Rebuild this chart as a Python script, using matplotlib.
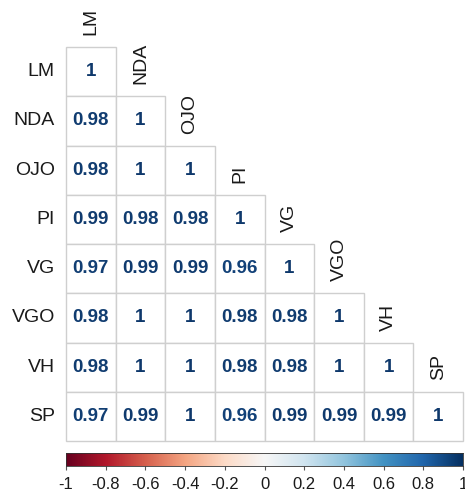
import matplotlib
matplotlib.use("Agg")
import matplotlib.pyplot as plt
import numpy as np
from matplotlib.patches import Rectangle
from matplotlib.colors import to_rgb

plt.rcParams['font.family'] = ['Liberation Sans', 'DejaVu Sans']

labels = ["LM", "NDA", "OJO", "PI", "VG", "VGO", "VH", "SP"]
rows = [
    [1],
    [0.98, 1],
    [0.98, 1, 1],
    [0.99, 0.98, 0.98, 1],
    [0.97, 0.99, 0.99, 0.96, 1],
    [0.98, 1, 1, 0.98, 0.98, 1],
    [0.98, 1, 1, 0.98, 0.98, 1, 1],
    [0.97, 0.99, 1, 0.96, 0.99, 0.99, 0.99, 1],
]
cbar_ticks = [-1, -0.8, -0.6, -0.4, -0.2, 0, 0.2, 0.4, 0.6, 0.8, 1]

W, H = 465, 495
fig = plt.figure(figsize=(W / 100, H / 100), dpi=100)
n = len(labels)
ax = fig.add_axes([66 / W, 1 - 441 / H, 397 / W, 394 / H])
ax.set_xlim(0, n)
ax.set_ylim(n, 0)
ax.axis('off')
cmap = plt.get_cmap('RdBu')

def fmt(v):
    return f"{v:.2f}".rstrip('0').rstrip('.')

def num_color(v):
    c = np.array(to_rgb(cmap((v + 1) / 2)))
    return tuple(c * 0.85 + 0.15 * np.array([0.25, 0.4, 0.65]))

for i, row in enumerate(rows):
    for j, v in enumerate(row):
        ax.add_patch(Rectangle((j, i), 1, 1, facecolor='white', edgecolor='#cfcfcf',
                               linewidth=1.0, clip_on=False))
        ax.text(j + 0.5, i + 0.5, fmt(v), ha='center', va='center', fontsize=13.5,
                fontweight='bold', color=num_color(v))
    ax.annotate(labels[i], xy=(0, i + 0.5), xytext=(-8, 0), textcoords='offset points',
                ha='right', va='center', fontsize=14, color='#1a1a1a',
                annotation_clip=False)
    ax.annotate(labels[i], xy=(i + 0.5, i), xytext=(0, 8.5), textcoords='offset points',
                rotation=90, ha='center', va='bottom', fontsize=14, color='#1a1a1a',
                annotation_clip=False)

cax = fig.add_axes([66 / W, 1 - 466 / H, 397 / W, 13 / H])
grad = np.linspace(-1, 1, 256).reshape(1, -1)
cax.imshow(grad, aspect='auto', cmap=cmap, vmin=-1, vmax=1, extent=[-1, 1, 0, 1])
cax.set_xlim(-1, 1)
cax.set_yticks([])
cax.set_xticks(cbar_ticks)
cax.set_xticklabels([fmt(t) for t in cbar_ticks], fontsize=12, color='#1a1a1a')
cax.tick_params(axis='x', length=3, width=0.8, color='#555555', pad=5)
for s in cax.spines.values():
    s.set_linewidth(0.6)
    s.set_color('#333333')

fig.savefig('out.png', dpi=100)
